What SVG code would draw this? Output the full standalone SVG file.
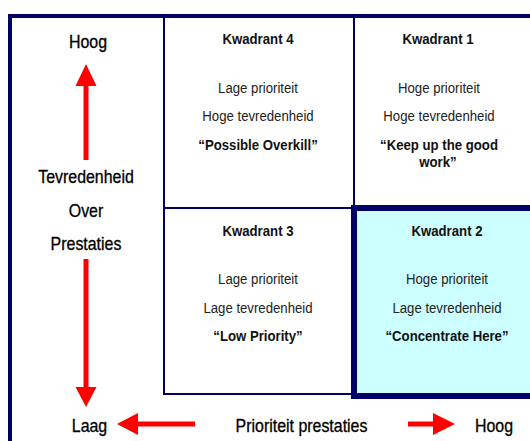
<svg xmlns="http://www.w3.org/2000/svg" width="530" height="441" viewBox="0 0 530 441">
  <style>
    .frame { fill: none; stroke: #000066; stroke-width: 4; }
    .grid { fill: none; stroke: #000066; stroke-width: 2; }
    .focus { fill: #CCFFFF; stroke: #000066; stroke-width: 6; }
    .arrow { fill: #FF0000; }
    text { font-family: "Liberation Sans", Arial, sans-serif; text-anchor: middle; fill: #000; }
    .axis { font-size: 17.5px; stroke: #000; stroke-width: 0.3; }
    .q { font-size: 15px; fill: #222; }
    .qb { font-size: 15px; font-weight: bold; fill: #111; }
  </style>

  <!-- outer frame (open to the right and bottom) -->
  <path class="frame" d="M10,441 V16 H530"/>

  <!-- quadrant grid -->
  <g id="grid">
    <path class="grid" d="M164,16 V394 H354 M354,16 V394 M164,208 H530"/>
  </g>

  <!-- Kwadrant 4 -->
  <g id="kwadrant4">
    <text class="qb" transform="translate(258,44) scale(0.88,1)">Kwadrant 4</text>
    <text class="q" transform="translate(258,92.5) scale(0.88,1)">Lage prioriteit</text>
    <text class="q" transform="translate(258,121) scale(0.88,1)">Hoge tevredenheid</text>
    <text class="qb" transform="translate(258,149.5) scale(0.88,1)">“Possible Overkill”</text>
  </g>

  <!-- Kwadrant 1 -->
  <g id="kwadrant1">
    <text class="qb" transform="translate(438,44) scale(0.88,1)">Kwadrant 1</text>
    <text class="q" transform="translate(439,92.5) scale(0.88,1)">Hoge prioriteit</text>
    <text class="q" transform="translate(439,121) scale(0.88,1)">Hoge tevredenheid</text>
    <text class="qb" transform="translate(439,149.5) scale(0.88,1)">“Keep up the good</text>
    <text class="qb" transform="translate(438,166.5) scale(0.88,1)">work”</text>
  </g>

  <!-- Kwadrant 3 -->
  <g id="kwadrant3">
    <text class="qb" transform="translate(258,236) scale(0.88,1)">Kwadrant 3</text>
    <text class="q" transform="translate(258,283.5) scale(0.88,1)">Lage prioriteit</text>
    <text class="q" transform="translate(258,312.5) scale(0.88,1)">Lage tevredenheid</text>
    <text class="qb" transform="translate(258,340.5) scale(0.88,1)">“Low Priority”</text>
  </g>

  <!-- Kwadrant 2 (highlighted) -->
  <g id="kwadrant2">
    <rect class="focus" x="354" y="208" width="200" height="188"/>
    <text class="qb" transform="translate(447,236) scale(0.88,1)">Kwadrant 2</text>
    <text class="q" transform="translate(447,283.5) scale(0.88,1)">Hoge prioriteit</text>
    <text class="q" transform="translate(447,312.5) scale(0.88,1)">Lage tevredenheid</text>
    <text class="qb" transform="translate(447,340.5) scale(0.88,1)">“Concentrate Here”</text>
  </g>

  <!-- vertical axis -->
  <g id="axis-tevredenheid">
    <text class="axis" transform="translate(88,47.5) scale(0.91,1)">Hoog</text>
    <text class="axis" transform="translate(86,183) scale(0.91,1)">Tevredenheid</text>
    <text class="axis" transform="translate(86,216.5) scale(0.91,1)">Over</text>
    <text class="axis" transform="translate(86,250) scale(0.91,1)">Prestaties</text>
  </g>

  <!-- horizontal axis -->
  <g id="axis-prioriteit">
    <text class="axis" transform="translate(89.5,431.5) scale(0.91,1)">Laag</text>
    <text class="axis" transform="translate(301.5,431.5) scale(0.91,1)">Prioriteit prestaties</text>
    <text class="axis" transform="translate(494,431.5) scale(0.91,1)">Hoog</text>
  </g>

  <!-- red axis arrows -->
  <g id="connectors">
    <polygon class="arrow" points="86,64 96.5,86 88.5,86 88.5,160 83.5,160 83.5,86 75.5,86"/>
    <polygon class="arrow" points="86,407 96.5,387 88.5,387 88.5,259 83.5,259 83.5,387 75.5,387"/>
    <polygon class="arrow" points="117,424 138,413 138,421.5 195,421.5 195,426.5 138,426.5 138,435"/>
    <polygon class="arrow" points="455,424 433,413 433,421.5 408,421.5 408,426.5 433,426.5 433,435"/>
  </g>
</svg>
